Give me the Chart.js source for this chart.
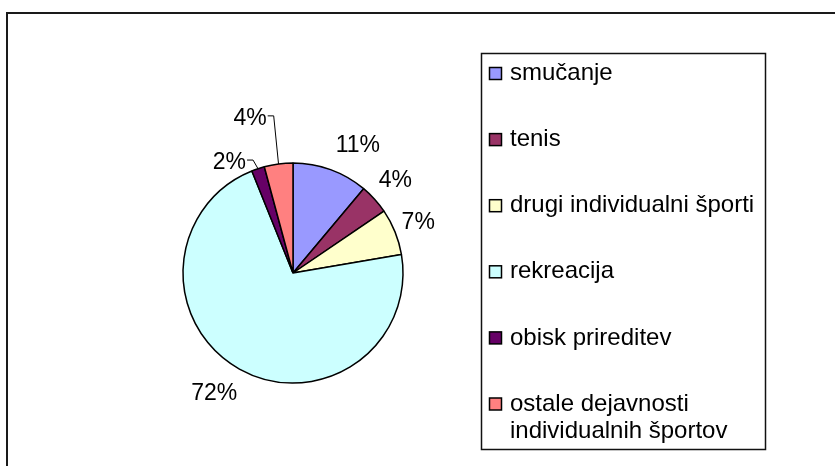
<!DOCTYPE html>
<html>
<head>
<meta charset="utf-8">
<script src="https://cdn.jsdelivr.net/npm/chart.js@4/dist/chart.umd.min.js"></script>
<style>
  html, body { margin: 0; padding: 0; background: #fff; }
  #wrap { position: relative; width: 835px; height: 466px; }
</style>
</head>
<body>
<div id="wrap"><canvas id="c" width="835" height="466"></canvas></div>
<script>
const categories = [
  'smučanje',
  'tenis',
  'drugi individualni športi',
  'rekreacija',
  'obisk prireditev',
  ['ostale dejavnosti', 'individualnih športov'],
];
const shares = [11.1, 4.4, 6.8, 71.6, 1.9, 4.2];
const colors = ['#9999FF', '#993366', '#FFFFCC', '#CCFFFF', '#660066', '#FF8080'];

// where each percent label sits: shift from the slice middle (deg), distance from centre (px)
const labelShift = [7, 0, 0, 4, -11.5, -8];
const labelDist = [143, 138, 135, 144, 127, 160];
const labelLeader = [false, false, false, false, true, true];

const FONT = '"Liberation Sans", Arial, sans-serif';

const piePlus = {
  id: 'piePlus',
  beforeDraw(chart) {
    const ctx = chart.ctx;
    // outer frame, only left and top edges are in view
    ctx.save();
    ctx.strokeStyle = '#1a1a1a';
    ctx.lineWidth = 2;
    ctx.beginPath();
    ctx.moveTo(7, 470);
    ctx.lineTo(7, 13);
    ctx.lineTo(840, 13);
    ctx.stroke();
    ctx.restore();
  },
  afterDatasetsDraw(chart) {
    const ctx = chart.ctx;
    const meta = chart.getDatasetMeta(0);
    const data = chart.data.datasets[0].data;
    const total = data.reduce((a, b) => a + b, 0);
    ctx.save();
    ctx.font = '23px ' + FONT;
    ctx.fillStyle = '#000';
    ctx.strokeStyle = '#000';
    ctx.lineWidth = 1;
    ctx.textAlign = 'center';
    ctx.textBaseline = 'middle';
    meta.data.forEach((arc, i) => {
      const { x, y, startAngle, endAngle, outerRadius } = arc.getProps(
        ['x', 'y', 'startAngle', 'endAngle', 'outerRadius'], true);
      const mid = (startAngle + endAngle) / 2;
      const a = mid + labelShift[i] * Math.PI / 180;
      const lx = x + Math.cos(a) * labelDist[i];
      const ly = y + Math.sin(a) * labelDist[i];
      const text = Math.round(data[i] / total * 100) + '%';
      ctx.fillText(text, lx, ly);
      if (labelLeader[i]) {
        const w = ctx.measureText(text).width;
        const sx = lx + w / 2 + 1;
        const sy = ly - 3;
        ctx.beginPath();
        ctx.moveTo(sx, sy);
        ctx.lineTo(sx + 6, sy);
        ctx.lineTo(x + Math.cos(mid) * outerRadius, y + Math.sin(mid) * outerRadius);
        ctx.stroke();
      }
    });
    ctx.restore();
  },
  afterDraw(chart) {
    const ctx = chart.ctx;
    const items = chart.options.plugins.legend.labels.generateLabels(chart);
    ctx.save();
    // legend box
    ctx.strokeStyle = '#111';
    ctx.lineWidth = 1.5;
    ctx.strokeRect(481.5, 53.5, 284, 396);
    ctx.font = '24px ' + FONT;
    ctx.textAlign = 'left';
    ctx.textBaseline = 'middle';
    items.forEach((item, i) => {
      const cy = 73.5 + i * 66.1;
      ctx.fillStyle = item.fillStyle;
      ctx.fillRect(489.5, cy - 6, 12, 12);
      ctx.strokeStyle = '#000';
      ctx.lineWidth = 1.5;
      ctx.strokeRect(489.5, cy - 6, 12, 12);
      ctx.fillStyle = '#000';
      const lines = Array.isArray(item.text) ? item.text : [item.text];
      lines.forEach((ln, k) => ctx.fillText(ln, 510, cy + k * 27));
    });
    ctx.restore();
  },
};

new Chart(document.getElementById('c'), {
  type: 'pie',
  data: {
    labels: categories,
    datasets: [{
      data: shares,
      backgroundColor: colors,
      borderColor: '#000',
      borderWidth: 1.5,
    }],
  },
  options: {
    responsive: false,
    animation: false,
    radius: 110,
    layout: {
      padding: { left: 150, right: 399, top: 120, bottom: 40 },
    },
    plugins: {
      legend: { display: false },
      tooltip: { enabled: false },
    },
  },
  plugins: [piePlus],
});
</script>
</body>
</html>
